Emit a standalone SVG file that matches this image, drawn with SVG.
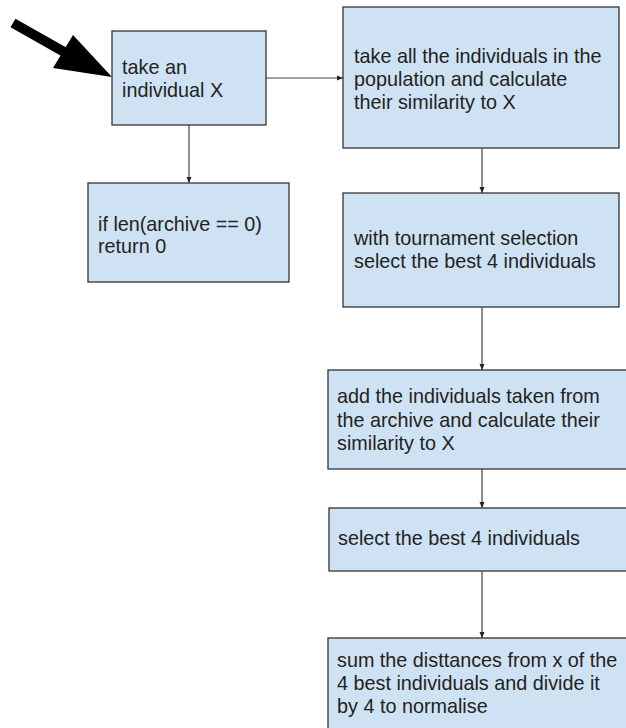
<svg xmlns="http://www.w3.org/2000/svg" width="626" height="728" viewBox="0 0 626 728">
<defs>
<style>
.box{fill:#cfe2f3;stroke:#333;stroke-width:1.3}
.t{font-family:"Liberation Sans",Arial,sans-serif;font-size:19.8px;fill:#222}
.c{fill:none;stroke:#444;stroke-width:1.2}
</style>
<marker id="ah" markerUnits="userSpaceOnUse" markerWidth="8" markerHeight="8" viewBox="0 0 8 8" refX="7" refY="4" orient="auto">
<path d="M1,1.5 L7,4 L1,6.5 Z" fill="#222"/>
</marker>
</defs>
<rect width="626" height="728" fill="#fff"/>
<g id="connectors">
<line class="c" x1="266" y1="78" x2="343" y2="78" marker-end="url(#ah)"/>
<line class="c" x1="189" y1="125" x2="189" y2="183" marker-end="url(#ah)"/>
<line class="c" x1="482" y1="148" x2="482" y2="193" marker-end="url(#ah)"/>
<line class="c" x1="482" y1="307" x2="482" y2="370" marker-end="url(#ah)"/>
<line class="c" x1="482" y1="469" x2="482" y2="508" marker-end="url(#ah)"/>
<line class="c" x1="482" y1="571" x2="482" y2="638" marker-end="url(#ah)"/>
</g>
<g id="start-arrow">
<line x1="13" y1="23" x2="66" y2="53" stroke="#000" stroke-width="10"/>
<polygon points="112,77 53,68 73,35" fill="#000"/>
</g>
<g id="n1">
<rect class="box" x="112" y="31" width="154" height="94"/>
<text class="t" x="122" y="74">take an</text>
<text class="t" x="122" y="97">individual X</text>
</g>
<g id="n2">
<rect class="box" x="343" y="7" width="276" height="141"/>
<text class="t" x="354" y="63">take all the individuals in the</text>
<text class="t" x="354" y="86">population and calculate</text>
<text class="t" x="354" y="109">their similarity to X</text>
</g>
<g id="n3">
<rect class="box" x="88" y="183" width="201" height="99"/>
<text class="t" x="98" y="231">if len(archive == 0)</text>
<text class="t" x="98" y="253">return 0</text>
</g>
<g id="n4">
<rect class="box" x="343" y="193" width="276" height="114"/>
<text class="t" x="354" y="245">with tournament selection</text>
<text class="t" x="354" y="268">select the best 4 individuals</text>
</g>
<g id="n5">
<rect class="box" x="328" y="370" width="320" height="99"/>
<text class="t" x="337" y="403">add the individuals taken from</text>
<text class="t" x="337" y="427">the archive and calculate their</text>
<text class="t" x="337" y="450">similarity to X</text>
</g>
<g id="n6">
<rect class="box" x="329" y="508" width="320" height="63"/>
<text class="t" x="338" y="545">select the best 4 individuals</text>
</g>
<g id="n7">
<rect class="box" x="328" y="638" width="320" height="110"/>
<text class="t" x="337" y="667">sum the disttances from x of the</text>
<text class="t" x="337" y="690">4 best individuals and divide it</text>
<text class="t" x="337" y="713">by 4 to normalise</text>
</g>
</svg>
